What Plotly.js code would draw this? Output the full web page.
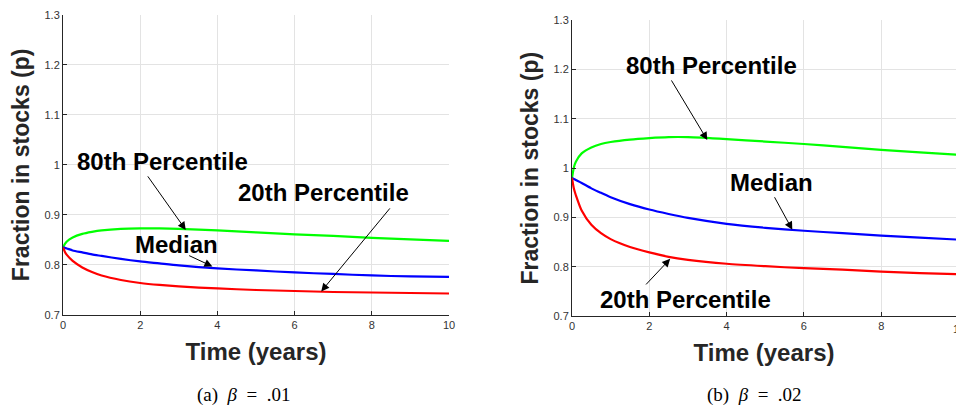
<!DOCTYPE html>
<html>
<head>
<meta charset="utf-8">
<script src="https://cdn.plot.ly/plotly-3.0.1.min.js"></script>
<style>html,body{margin:0;padding:0;background:#fff;}#chart{width:956px;height:405px;}</style>
</head>
<body>
<div id="chart"></div>
<script>
// Time grid (years)
const time = [0, 0.05, 0.1, 0.25, 0.5, 0.75, 1, 1.5, 2, 2.5, 3, 4, 5, 6, 7, 8, 9, 10];

// Panel (a) beta = .01
const a_p80 = [0.835, 0.842, 0.847, 0.855, 0.862, 0.866, 0.869, 0.872, 0.873, 0.873, 0.872, 0.869, 0.865, 0.861, 0.858, 0.854, 0.851, 0.848];
const a_med = [0.835, 0.834, 0.833, 0.829, 0.825, 0.821, 0.818, 0.812, 0.807, 0.803, 0.799, 0.793, 0.789, 0.785, 0.782, 0.779, 0.777, 0.776];
const a_p20 = [0.835, 0.826, 0.820, 0.808, 0.795, 0.786, 0.779, 0.770, 0.764, 0.760, 0.757, 0.753, 0.750, 0.748, 0.746, 0.745, 0.744, 0.743];

// Panel (b) beta = .02
const b_p80 = [0.980, 1.002, 1.013, 1.030, 1.042, 1.049, 1.053, 1.058, 1.061, 1.063, 1.063, 1.059, 1.054, 1.049, 1.043, 1.037, 1.032, 1.027];
const b_med = [0.980, 0.978, 0.976, 0.970, 0.959, 0.950, 0.941, 0.927, 0.916, 0.907, 0.899, 0.887, 0.879, 0.873, 0.868, 0.863, 0.859, 0.855];
const b_p20 = [0.980, 0.958, 0.945, 0.914, 0.885, 0.868, 0.856, 0.840, 0.829, 0.820, 0.814, 0.806, 0.801, 0.797, 0.794, 0.790, 0.787, 0.785];

const xTicks = [0, 2, 4, 6, 8, 10];
const yTicks = [0.7, 0.8, 0.9, 1, 1.1, 1.2, 1.3];
const yTickText = ['0.7', '0.8', '0.9', '1', '1.1', '1.2', '1.3'];

const GREEN = '#00ff00', BLUE = '#0000ff', RED = '#ff0000';

function line(x, y, color, xa, ya, name) {
  return {x: x, y: y, type: 'scatter', mode: 'lines', name: name,
    line: {color: color, width: 2.2, shape: 'spline', smoothing: 0.7},
    xaxis: xa, yaxis: ya, showlegend: false, hoverinfo: 'skip'};
}

const traces = [
  line(time, a_p80, GREEN, 'x', 'y', '80th Percentile'),
  line(time, a_med, BLUE, 'x', 'y', 'Median'),
  line(time, a_p20, RED, 'x', 'y', '20th Percentile'),
  line(time, b_p80, GREEN, 'x2', 'y2', '80th Percentile'),
  line(time, b_med, BLUE, 'x2', 'y2', 'Median'),
  line(time, b_p20, RED, 'x2', 'y2', '20th Percentile')
];

const SANS = 'Liberation Sans, Arial, Helvetica, sans-serif';
const tickFont = {family: SANS, size: 11, color: '#333333'};

function xaxis(domain, anchor, range) {
  return {domain: domain, anchor: anchor, range: range, tickvals: xTicks,
    ticks: 'inside', ticklen: 4, tickcolor: '#262626', showline: true, linecolor: '#262626', linewidth: 1,
    showgrid: true, gridcolor: '#e3e3e3', gridwidth: 1, zeroline: false, tickfont: tickFont,
    title: {text: '<b>Time (years)</b>', font: {family: SANS, size: 24, color: '#262626'}, standoff: 12},
    fixedrange: true};
}
function yaxis(domain, anchor) {
  return {domain: domain, anchor: anchor, range: [0.7, 1.3], tickvals: yTicks, ticktext: yTickText,
    ticks: 'inside', ticklen: 4, tickcolor: '#262626', showline: true, linecolor: '#262626', linewidth: 1,
    showgrid: true, gridcolor: '#e3e3e3', gridwidth: 1, zeroline: false, tickfont: tickFont,
    title: {text: '<b>Fraction in stocks (p)</b>', font: {family: SANS, size: 23, color: '#262626'}, standoff: 8},
    fixedrange: true};
}

const labFont = {family: SANS, size: 24, color: '#000'};
function label(text, x, y, xr, yr) {
  return {text: '<b>' + text + '</b>', x: x, y: y, xref: xr, yref: yr, showarrow: false,
    font: labFont, xanchor: 'center', yanchor: 'middle'};
}
function arrow(hx, hy, tx, ty, xr, yr) {
  return {text: '', x: hx, y: hy, ax: tx, ay: ty, xref: xr, yref: yr, axref: xr, ayref: yr,
    showarrow: true, arrowhead: 2, arrowsize: 1.6, arrowwidth: 1, arrowcolor: '#000', standoff: 0, startstandoff: 0};
}

const capFont = {family: 'Liberation Serif, Times New Roman, serif', size: 19, color: '#000'};
const SP = '\u2002';

const annotations = [
  // panel a
  label('80th Percentile', 2.58, 1.006, 'x', 'y'),
  arrow(3.18, 0.870, 2.17, 0.980, 'x', 'y'),
  label('20th Percentile', 6.75, 0.944, 'x', 'y'),
  arrow(6.69, 0.747, 8.50, 0.916, 'x', 'y'),
  label('Median', 2.94, 0.840, 'x', 'y'),
  arrow(3.87, 0.797, 3.23, 0.820, 'x', 'y'),
  // panel b
  label('80th Percentile', 3.60, 1.208, 'x2', 'y2'),
  arrow(3.50, 1.057, 2.55, 1.181, 'x2', 'y2'),
  label('Median', 5.17, 0.970, 'x2', 'y2'),
  arrow(5.70, 0.875, 5.22, 0.944, 'x2', 'y2'),
  label('20th Percentile', 2.93, 0.733, 'x2', 'y2'),
  arrow(2.54, 0.816, 1.88, 0.761, 'x2', 'y2'),
  // last tick label of panel b, which falls just past the page edge (as in the reference)
  {text: '10', x: 958.5/956, y: 1 - 329/405, xref: 'paper', yref: 'paper', showarrow: false,
    font: tickFont, xanchor: 'center', yanchor: 'middle'},
  // captions
  {text: '(a)' + SP + '<i>β</i>' + SP + '=' + SP + '.01', x: 244/956, y: 1 - 395/405, xref: 'paper', yref: 'paper',
    showarrow: false, font: capFont, xanchor: 'center', yanchor: 'middle'},
  {text: '(b)' + SP + '<i>β</i>' + SP + '=' + SP + '.02', x: 754/956, y: 1 - 395/405, xref: 'paper', yref: 'paper',
    showarrow: false, font: capFont, xanchor: 'center', yanchor: 'middle'}
];

const layout = {
  width: 956, height: 405,
  margin: {l: 0, r: 0, t: 0, b: 0},
  paper_bgcolor: '#ffffff', plot_bgcolor: '#ffffff',
  showlegend: false,
  xaxis: xaxis([63/956, 449/956], 'y', [0, 10]),
  yaxis: yaxis([1 - 315/405, 1 - 14.7/405], 'x'),
  xaxis2: xaxis([572/956, 1], 'y2', [0, (956 - 572) / 38.65]),
  yaxis2: yaxis([1 - 316/405, 1 - 20.3/405], 'x2'),
  annotations: annotations
};

Plotly.newPlot('chart', traces, layout, {displayModeBar: false, staticPlot: true});
</script>
</body>
</html>
